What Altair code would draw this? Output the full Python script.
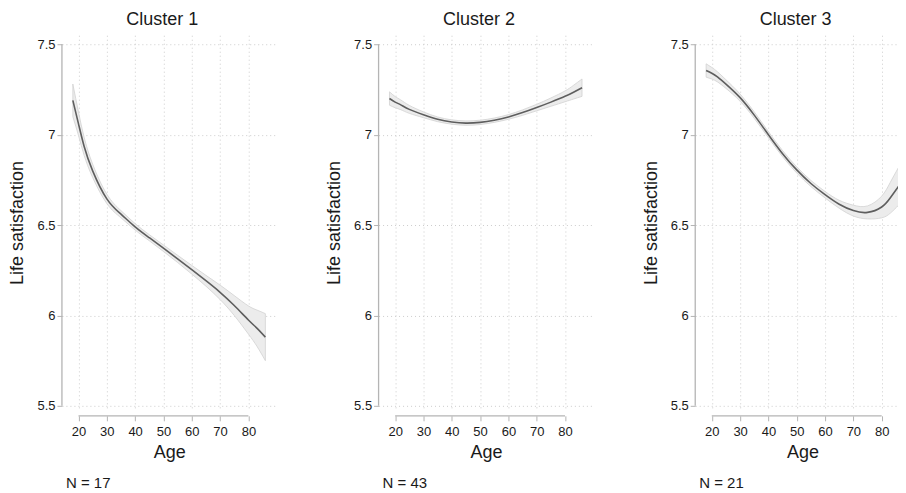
import altair as alt
import pandas as pd

ages = [18, 20, 22, 25, 30, 35, 40, 45, 50, 55, 60, 65, 70, 75, 80, 83, 86]

titles = ["Cluster 1", "Cluster 2", "Cluster 3"]
notes = ["N = 17", "N = 43", "N = 21"]

mean1 = [7.19, 7.06, 6.935, 6.80, 6.645, 6.56, 6.49, 6.43, 6.372, 6.313, 6.253, 6.192, 6.128, 6.055, 5.975, 5.93, 5.88]
hw1 = [0.09, 0.065, 0.05, 0.037, 0.026, 0.02, 0.018, 0.017, 0.018, 0.02, 0.024, 0.03, 0.04, 0.055, 0.078, 0.10, 0.13]

mean2 = [7.20, 7.18, 7.165, 7.14, 7.11, 7.085, 7.07, 7.064, 7.068, 7.08, 7.098, 7.122, 7.15, 7.18, 7.212, 7.235, 7.26]
hw2 = [0.037, 0.031, 0.027, 0.022, 0.016, 0.013, 0.012, 0.012, 0.012, 0.012, 0.013, 0.015, 0.018, 0.023, 0.03, 0.038, 0.048]

mean3 = [7.355, 7.34, 7.32, 7.28, 7.205, 7.108, 7.0, 6.895, 6.805, 6.73, 6.668, 6.615, 6.58, 6.57, 6.60, 6.65, 6.715]
hw3 = [0.037, 0.032, 0.028, 0.024, 0.02, 0.018, 0.017, 0.017, 0.017, 0.017, 0.018, 0.022, 0.03, 0.036, 0.06, 0.085, 0.105]

x_ticks = [20, 30, 40, 50, 60, 70, 80]
y_ticks = [5.5, 6.0, 6.5, 7.0, 7.5]

W, H = 215, 375
AXIS_COLOR = "#b4b4b4"
TEXT_COLOR = "#1a1a1a"

xscale = alt.Scale(domain=[14.15, 90], nice=False, zero=False)
yscale = alt.Scale(domain=[5.478, 7.55], nice=False, zero=False)

x_axis = alt.Axis(values=x_ticks, format="d", domain=False, offset=6,
                  tickSize=5, tickColor=AXIS_COLOR, labelPadding=5,
                  labelOverlap=False, titlePadding=5, grid=True,
                  gridDash=[1, 3], gridColor="#cccccc", gridWidth=1)
y_axis = alt.Axis(values=y_ticks, labelExpr="'' + datum.value",
                  domain=False, tickSize=5, tickColor=AXIS_COLOR,
                  labelPadding=2, labelOverlap=False, titlePadding=10,
                  grid=True, gridDash=[1, 3], gridColor="#cccccc", gridWidth=1)


def panel(title, note, means, hws):
    df = pd.DataFrame({
        "age": ages,
        "mean": means,
        "lo": [m - h for m, h in zip(means, hws)],
        "hi": [m + h for m, h in zip(means, hws)],
    })
    base = alt.Chart(df)
    band = base.mark_area(
        fill="#ececec", stroke="#d2d2d2", strokeWidth=0.8, interpolate="natural"
    ).encode(
        x=alt.X("age:Q", scale=xscale, title="Age", axis=x_axis),
        y=alt.Y("lo:Q", scale=yscale, title="Life satisfaction", axis=y_axis),
        y2="hi:Q",
    )
    line = base.mark_line(color="#5e5e5e", strokeWidth=1.6, interpolate="natural").encode(
        x=alt.X("age:Q", scale=xscale, title="Age", axis=x_axis),
        y=alt.Y("mean:Q", scale=yscale, title="Life satisfaction", axis=y_axis),
    )
    xrule = alt.Chart(pd.DataFrame({"a": [x_ticks[0]], "b": [x_ticks[-1]]})).mark_rule(
        color=AXIS_COLOR, strokeWidth=1.3
    ).encode(x=alt.X("a:Q", scale=xscale, title="Age", axis=x_axis), x2="b:Q",
             y=alt.value(H + 6))
    yrule = alt.Chart(pd.DataFrame({"a": [y_ticks[0]], "b": [y_ticks[-1]]})).mark_rule(
        color=AXIS_COLOR, strokeWidth=1.3
    ).encode(y=alt.Y("a:Q", scale=yscale, title="Life satisfaction", axis=y_axis),
             y2="b:Q", x=alt.value(0))
    txt = alt.Chart(pd.DataFrame({"t": [note]})).mark_text(
        align="left", baseline="middle", fontSize=15, color=TEXT_COLOR, font="Liberation Sans"
    ).encode(text="t:N", x=alt.value(4), y=alt.value(H + 73))
    return alt.layer(band, line, xrule, yrule, txt).properties(
        width=W, height=H,
        title=alt.TitleParams(title, fontSize=18, fontWeight="normal", anchor="middle",
                              frame="group", dx=-7, offset=6, color=TEXT_COLOR,
                              font="Liberation Sans"),
    )


chart = alt.hconcat(
    panel(titles[0], notes[0], mean1, hw1),
    panel(titles[1], notes[1], mean2, hw2),
    panel(titles[2], notes[2], mean3, hw3),
    spacing=48,
).properties(
    padding={"left": 0, "top": 3, "right": -12, "bottom": 0}
).configure_view(stroke=None).configure_axis(
    labelFont="Liberation Sans", titleFont="Liberation Sans", labelFontSize=13,
    titleFontSize=18, titleFontWeight="normal", labelColor=TEXT_COLOR, titleColor=TEXT_COLOR,
)

chart.save("out.html", embed_options={"renderer": "svg", "actions": False})
